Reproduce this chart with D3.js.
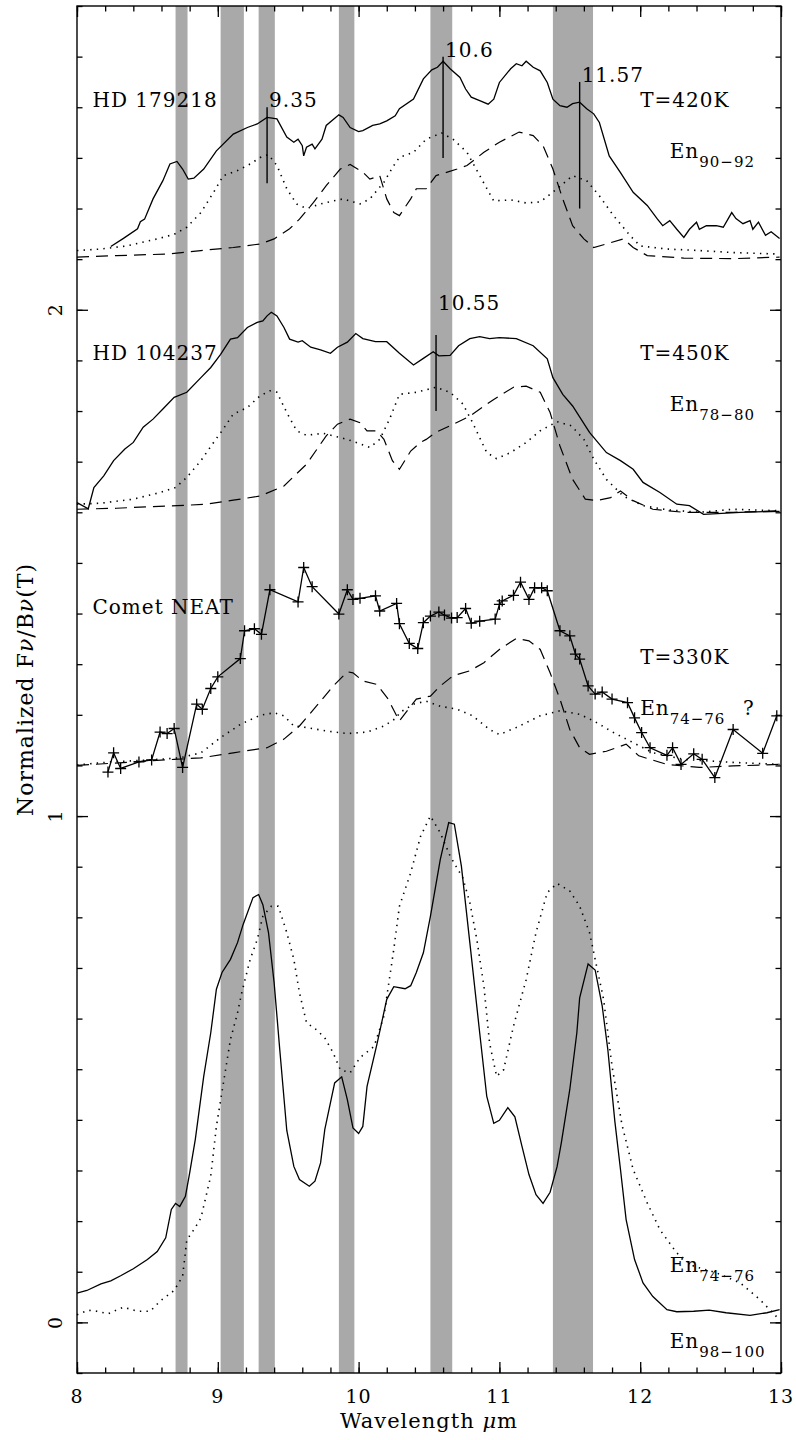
<!DOCTYPE html>
<html>
<head>
<meta charset="utf-8">
<script src="https://cdn.jsdelivr.net/npm/d3@7"></script>
<style>
  body { margin: 0; background: #fff; }
  text { font-family: "DejaVu Serif", serif; fill: #000; letter-spacing: 1px; }
  .obs { fill: none; stroke: #000; stroke-width: 1.3px; }
  .dot { fill: none; stroke: #000; stroke-width: 1.6px; stroke-dasharray: 1.4,5.2; }
  .dash { fill: none; stroke: #000; stroke-width: 1.2px; stroke-dasharray: 12,7; }
  .axis path, .axis line { stroke: #000; stroke-width: 1.3px; }
</style>
</head>
<body>
<div id="chart"></div>
<script>
// wavelength (um), normalized flux
const bands = [[8.70, 8.785], [9.02, 9.185], [9.29, 9.405], [9.86, 9.97], [10.51, 10.665], [11.38, 11.665]];

const hd179218 = [[8.24,2.125],[8.33,2.141],[8.43,2.160],[8.45,2.174],[8.48,2.179],[8.54,2.219],[8.61,2.255],[8.66,2.288],[8.71,2.293],[8.75,2.278],[8.79,2.258],[8.83,2.260],[8.90,2.278],[8.99,2.314],[9.11,2.347],[9.21,2.360],[9.28,2.367],[9.35,2.380],[9.42,2.377],[9.49,2.341],[9.54,2.331],[9.57,2.337],[9.60,2.324],[9.61,2.304],[9.63,2.321],[9.67,2.327],[9.69,2.318],[9.74,2.337],[9.77,2.364],[9.86,2.385],[9.89,2.380],[9.94,2.360],[10.00,2.352],[10.03,2.354],[10.10,2.364],[10.15,2.367],[10.20,2.373],[10.26,2.383],[10.29,2.397],[10.39,2.416],[10.46,2.456],[10.52,2.474],[10.56,2.479],[10.60,2.491],[10.65,2.476],[10.72,2.459],[10.76,2.436],[10.80,2.420],[10.86,2.413],[10.92,2.406],[10.96,2.416],[11.00,2.449],[11.08,2.476],[11.12,2.486],[11.16,2.482],[11.19,2.491],[11.24,2.479],[11.29,2.472],[11.34,2.449],[11.38,2.416],[11.43,2.403],[11.48,2.400],[11.52,2.407],[11.57,2.410],[11.62,2.397],[11.67,2.387],[11.71,2.370],[11.78,2.304],[11.86,2.271],[11.95,2.232],[12.05,2.206],[12.12,2.180],[12.16,2.166],[12.21,2.176],[12.26,2.159],[12.31,2.143],[12.35,2.159],[12.40,2.173],[12.42,2.159],[12.47,2.166],[12.54,2.166],[12.59,2.163],[12.65,2.192],[12.68,2.180],[12.73,2.170],[12.78,2.176],[12.80,2.159],[12.84,2.173],[12.89,2.147],[12.93,2.154],[12.99,2.141]];
const hd179218Dot = [[8.00,2.117],[8.17,2.120],[8.35,2.126],[8.57,2.140],[8.69,2.149],[8.78,2.163],[8.88,2.192],[8.97,2.232],[9.04,2.265],[9.14,2.275],[9.23,2.288],[9.32,2.304],[9.36,2.306],[9.42,2.285],[9.49,2.239],[9.56,2.209],[9.63,2.200],[9.73,2.209],[9.82,2.215],[9.89,2.219],[10.01,2.209],[10.08,2.219],[10.18,2.252],[10.25,2.285],[10.29,2.301],[10.39,2.311],[10.48,2.337],[10.59,2.349],[10.67,2.337],[10.77,2.311],[10.86,2.265],[10.96,2.215],[11.08,2.217],[11.19,2.211],[11.29,2.213],[11.41,2.239],[11.52,2.265],[11.62,2.255],[11.71,2.225],[11.81,2.186],[11.93,2.146],[12.00,2.126],[12.19,2.120],[12.42,2.117],[12.66,2.113],[12.99,2.110]];
const hd179218Dash = [[8.00,2.104],[8.28,2.107],[8.64,2.110],[8.88,2.117],[9.11,2.123],[9.30,2.130],[9.40,2.140],[9.51,2.160],[9.58,2.179],[9.68,2.212],[9.77,2.245],[9.87,2.278],[9.94,2.287],[10.03,2.272],[10.08,2.258],[10.15,2.265],[10.20,2.219],[10.25,2.192],[10.29,2.186],[10.37,2.219],[10.41,2.239],[10.48,2.239],[10.55,2.265],[10.70,2.278],[10.77,2.285],[10.89,2.311],[11.00,2.331],[11.14,2.351],[11.24,2.344],[11.31,2.324],[11.38,2.278],[11.45,2.219],[11.52,2.166],[11.60,2.140],[11.67,2.123],[11.76,2.130],[11.88,2.140],[11.95,2.123],[12.05,2.107],[12.31,2.102],[12.66,2.101],[12.99,2.104]];

const hd104237 = [[8.00,1.619],[8.08,1.607],[8.12,1.649],[8.19,1.672],[8.26,1.702],[8.34,1.725],[8.40,1.738],[8.47,1.768],[8.54,1.784],[8.61,1.804],[8.69,1.827],[8.78,1.837],[8.88,1.866],[8.95,1.886],[9.02,1.912],[9.09,1.942],[9.14,1.945],[9.21,1.965],[9.28,1.975],[9.32,1.978],[9.35,1.988],[9.38,1.995],[9.42,1.988],[9.47,1.965],[9.51,1.942],[9.57,1.936],[9.60,1.939],[9.66,1.926],[9.73,1.921],[9.80,1.914],[9.85,1.926],[9.92,1.936],[9.98,1.953],[10.03,1.943],[10.12,1.937],[10.20,1.937],[10.29,1.914],[10.39,1.891],[10.46,1.904],[10.53,1.917],[10.57,1.909],[10.65,1.910],[10.71,1.929],[10.79,1.943],[10.86,1.947],[10.93,1.943],[11.00,1.945],[11.12,1.943],[11.24,1.929],[11.34,1.903],[11.38,1.866],[11.45,1.833],[11.52,1.810],[11.64,1.758],[11.76,1.718],[11.86,1.702],[11.95,1.685],[12.02,1.659],[12.14,1.639],[12.26,1.616],[12.35,1.613],[12.45,1.596],[12.71,1.600],[12.99,1.602]];
const hd104237Dot = [[8.00,1.616],[8.17,1.618],[8.40,1.626],[8.59,1.639],[8.70,1.649],[8.78,1.669],[8.88,1.702],[8.97,1.738],[9.03,1.761],[9.11,1.794],[9.21,1.807],[9.30,1.830],[9.37,1.840],[9.42,1.837],[9.49,1.797],[9.56,1.761],[9.63,1.752],[9.75,1.756],[9.82,1.751],[9.92,1.744],[10.01,1.735],[10.08,1.728],[10.15,1.744],[10.22,1.784],[10.29,1.833],[10.41,1.837],[10.55,1.847],[10.65,1.837],[10.74,1.814],[10.81,1.777],[10.91,1.718],[10.98,1.706],[11.08,1.718],[11.19,1.738],[11.29,1.761],[11.41,1.779],[11.51,1.771],[11.60,1.744],[11.67,1.705],[11.76,1.665],[11.88,1.632],[12.02,1.613],[12.19,1.605],[12.42,1.600],[12.66,1.606],[12.99,1.603]];
const hd104237Dash = [[8.00,1.606],[8.28,1.608],[8.52,1.611],[8.71,1.613],[8.92,1.616],[9.11,1.624],[9.30,1.632],[9.47,1.652],[9.63,1.695],[9.77,1.751],[9.85,1.774],[9.94,1.784],[10.01,1.777],[10.06,1.761],[10.13,1.761],[10.18,1.744],[10.24,1.702],[10.29,1.685],[10.37,1.721],[10.44,1.738],[10.48,1.744],[10.55,1.758],[10.65,1.771],[10.79,1.790],[10.96,1.823],[11.10,1.847],[11.19,1.849],[11.29,1.837],[11.36,1.797],[11.43,1.731],[11.52,1.665],[11.61,1.626],[11.69,1.623],[11.79,1.629],[11.86,1.642],[11.95,1.623],[12.09,1.606],[12.31,1.600],[12.66,1.600],[12.99,1.603]];

const cometNeat = [[8.22,1.087],[8.26,1.125],[8.31,1.094],[8.44,1.107],[8.53,1.111],[8.59,1.166],[8.64,1.163],[8.69,1.173],[8.75,1.096],[8.85,1.221],[8.89,1.211],[8.95,1.252],[9.00,1.275],[9.16,1.311],[9.19,1.366],[9.26,1.370],[9.31,1.359],[9.37,1.447],[9.57,1.423],[9.61,1.491],[9.67,1.453],[9.86,1.399],[9.92,1.447],[9.96,1.428],[10.01,1.430],[10.12,1.435],[10.15,1.405],[10.27,1.420],[10.29,1.380],[10.36,1.341],[10.42,1.331],[10.46,1.382],[10.51,1.395],[10.57,1.403],[10.61,1.397],[10.66,1.391],[10.70,1.392],[10.76,1.410],[10.80,1.381],[10.86,1.385],[10.97,1.389],[11.00,1.418],[11.02,1.425],[11.10,1.436],[11.15,1.462],[11.21,1.428],[11.25,1.451],[11.30,1.451],[11.34,1.445],[11.43,1.366],[11.50,1.356],[11.54,1.320],[11.57,1.310],[11.63,1.257],[11.68,1.241],[11.73,1.245],[11.80,1.231],[11.91,1.224],[11.96,1.194],[12.01,1.165],[12.07,1.135],[12.19,1.120],[12.23,1.135],[12.29,1.102],[12.38,1.123],[12.44,1.112],[12.53,1.076],[12.66,1.171],[12.87,1.124],[12.97,1.198]];
const cometDot = [[8.00,1.101],[8.24,1.107],[8.52,1.111],[8.73,1.115],[8.88,1.125],[9.02,1.155],[9.16,1.181],[9.30,1.199],[9.40,1.204],[9.47,1.198],[9.54,1.178],[9.63,1.175],[9.77,1.168],[9.92,1.163],[10.06,1.166],[10.18,1.178],[10.27,1.194],[10.29,1.204],[10.39,1.221],[10.48,1.227],[10.58,1.217],[10.70,1.211],[10.81,1.198],[10.93,1.171],[11.00,1.161],[11.12,1.175],[11.29,1.198],[11.43,1.208],[11.57,1.201],[11.67,1.188],[11.81,1.165],[11.95,1.145],[12.09,1.125],[12.31,1.112],[12.66,1.106],[12.99,1.102]];
const cometDash = [[8.00,1.100],[8.40,1.107],[8.69,1.112],[8.88,1.115],[9.11,1.125],[9.35,1.135],[9.47,1.152],[9.58,1.178],[9.70,1.217],[9.82,1.257],[9.92,1.285],[9.96,1.283],[10.03,1.267],[10.13,1.260],[10.21,1.231],[10.27,1.198],[10.29,1.188],[10.37,1.217],[10.41,1.231],[10.51,1.237],[10.58,1.257],[10.67,1.277],[10.79,1.287],[10.89,1.303],[11.00,1.329],[11.12,1.351],[11.21,1.346],[11.29,1.329],[11.36,1.283],[11.43,1.231],[11.50,1.171],[11.57,1.135],[11.64,1.122],[11.76,1.128],[11.90,1.142],[11.99,1.119],[12.19,1.102],[12.42,1.096],[12.66,1.099],[12.99,1.102]];

const en98100 = [[8.00,0.058],[8.07,0.063],[8.17,0.076],[8.24,0.082],[8.31,0.092],[8.40,0.106],[8.50,0.124],[8.57,0.140],[8.63,0.167],[8.67,0.223],[8.70,0.235],[8.73,0.229],[8.77,0.249],[8.80,0.295],[8.84,0.361],[8.90,0.486],[8.95,0.572],[8.99,0.658],[9.03,0.691],[9.09,0.717],[9.14,0.750],[9.18,0.786],[9.25,0.839],[9.29,0.845],[9.32,0.825],[9.36,0.770],[9.40,0.671],[9.44,0.539],[9.49,0.379],[9.54,0.308],[9.58,0.282],[9.65,0.269],[9.69,0.279],[9.73,0.315],[9.76,0.381],[9.83,0.473],[9.88,0.485],[9.92,0.440],[9.96,0.384],[10.00,0.373],[10.03,0.387],[10.06,0.466],[10.13,0.549],[10.20,0.638],[10.25,0.663],[10.33,0.659],[10.37,0.665],[10.41,0.691],[10.46,0.730],[10.51,0.802],[10.58,0.914],[10.64,0.987],[10.68,0.984],[10.73,0.901],[10.79,0.750],[10.86,0.572],[10.91,0.447],[10.96,0.393],[11.00,0.399],[11.06,0.424],[11.11,0.406],[11.16,0.348],[11.21,0.292],[11.26,0.252],[11.31,0.235],[11.36,0.257],[11.41,0.308],[11.44,0.355],[11.50,0.460],[11.55,0.572],[11.57,0.641],[11.63,0.708],[11.68,0.696],[11.73,0.625],[11.77,0.539],[11.82,0.397],[11.86,0.302],[11.90,0.203],[11.96,0.124],[12.02,0.078],[12.09,0.051],[12.19,0.025],[12.26,0.021],[12.38,0.022],[12.49,0.024],[12.61,0.019],[12.78,0.014],[12.90,0.019],[12.99,0.025]];
const en7476 = [[8.00,0.015],[8.08,0.024],[8.14,0.022],[8.22,0.017],[8.33,0.030],[8.43,0.022],[8.52,0.022],[8.59,0.042],[8.69,0.063],[8.75,0.091],[8.78,0.163],[8.83,0.183],[8.88,0.206],[8.95,0.289],[8.99,0.387],[9.04,0.473],[9.09,0.559],[9.14,0.611],[9.17,0.651],[9.23,0.717],[9.28,0.756],[9.32,0.802],[9.38,0.822],[9.43,0.822],[9.49,0.770],[9.54,0.717],[9.58,0.651],[9.63,0.592],[9.70,0.578],[9.76,0.562],[9.82,0.532],[9.87,0.499],[9.94,0.493],[10.01,0.523],[10.11,0.545],[10.18,0.605],[10.25,0.737],[10.29,0.822],[10.37,0.888],[10.44,0.960],[10.51,1.000],[10.58,0.967],[10.65,0.921],[10.74,0.878],[10.79,0.829],[10.84,0.756],[10.89,0.664],[10.93,0.552],[10.98,0.486],[11.03,0.499],[11.10,0.585],[11.19,0.677],[11.26,0.770],[11.34,0.849],[11.41,0.867],[11.50,0.852],[11.57,0.822],[11.64,0.770],[11.69,0.704],[11.74,0.638],[11.80,0.506],[11.87,0.391],[11.95,0.302],[12.05,0.236],[12.14,0.183],[12.26,0.137],[12.38,0.111],[12.54,0.098],[12.71,0.078],[12.85,0.045],[12.99,0.005]];

// peak markers: wavelength, lower end, upper end
const peakMarks = [[9.35, 2.25, 2.40], [10.6, 2.30, 2.50], [11.57, 2.20, 2.45], [10.55, 1.80, 1.95]];
const peakLabels = ["9.35", "10.6", "11.57", "10.55"];
const peakLabelY = [2.40, 2.50, 2.45, 2.00];

let margin = {top: 6, right: 15, bottom: 67, left: 77};
let width = 796 - margin.left - margin.right,
    height = 1440 - margin.top - margin.bottom;

let svg = d3.select("#chart").append("svg")
    .attr("width", 796)
    .attr("height", 1440)
    .append("g")
    .attr("transform", `translate(${margin.left},${margin.top})`);

let xScale = d3.scaleLinear().domain([8, 13]).range([0, width]);
let yScale = d3.scaleLinear().domain([-0.1, 2.6]).range([height, 0]);

// shaded bands
svg.selectAll(".band")
    .data(bands)
    .enter().append("rect")
    .attr("class", "band")
    .attr("x", d => xScale(d[0]))
    .attr("width", d => xScale(d[1]) - xScale(d[0]))
    .attr("y", 0)
    .attr("height", height)
    .attr("fill", "#a9a9a9");

let line = d3.line()
    .x(d => xScale(d[0]))
    .y(d => yScale(d[1]));

let series = [
    [hd179218, "obs"], [hd179218Dot, "dot"], [hd179218Dash, "dash"],
    [hd104237, "obs"], [hd104237Dot, "dot"], [hd104237Dash, "dash"],
    [cometNeat, "obs"], [cometDot, "dot"], [cometDash, "dash"],
    [en98100, "obs"], [en7476, "dot"]
];

series.forEach(s => {
    svg.append("path")
        .datum(s[0])
        .attr("class", s[1])
        .attr("d", line);
});

// crosses on the comet data
svg.selectAll(".cross")
    .data(cometNeat)
    .enter().append("path")
    .attr("class", "cross")
    .attr("transform", d => `translate(${xScale(d[0])},${yScale(d[1])})`)
    .attr("d", "M-5.5,0H5.5M0,-5.5V5.5")
    .attr("stroke", "#000")
    .attr("stroke-width", 1.3);

// vertical peak markers with labels
svg.selectAll(".peak")
    .data(peakMarks)
    .enter().append("line")
    .attr("class", "peak")
    .attr("x1", d => xScale(d[0]))
    .attr("x2", d => xScale(d[0]))
    .attr("y1", d => yScale(d[1]))
    .attr("y2", d => yScale(d[2]))
    .attr("stroke", "#000")
    .attr("stroke-width", 1.4);

svg.selectAll(".peak-label")
    .data(peakMarks)
    .enter().append("text")
    .attr("x", d => xScale(d[0]) + 2)
    .attr("y", (d, i) => yScale(peakLabelY[i]))
    .style("font-size", "20px")
    .text((d, i) => peakLabels[i]);

// text labels
function label(x, y, main, sub) {
    let t = svg.append("text")
        .attr("x", xScale(x))
        .attr("y", yScale(y))
        .style("font-size", "20px")
        .text(main);
    if (sub) {
        t.append("tspan")
            .attr("dy", 9)
            .style("font-size", "15px")
            .text(sub);
    }
    return t;
}

label(8.11, 2.40, "HD 179218");
label(12.0, 2.40, "T=420K");
label(12.21, 2.30, "En", "90\u221292");
label(8.11, 1.90, "HD 104237");
label(12.0, 1.90, "T=450K");
label(12.21, 1.80, "En", "78\u221280");
label(8.11, 1.40, "Comet NEAT");
label(12.0, 1.30, "T=330K");
label(12.0, 1.20, "En", "74\u221276");
label(12.73, 1.20, "?");
label(12.21, 0.10, "En", "74\u221276");
label(12.21, -0.05, "En", "98\u2212100");

// frame
svg.append("rect")
    .attr("width", width)
    .attr("height", height)
    .attr("fill", "none")
    .attr("stroke", "#000")
    .attr("stroke-width", 1.4);

// ticks, all pointing inward
let xMinor = d3.range(8, 13.01, 0.2);
let yMinor = d3.range(-0.1, 2.61, 0.1);

function addAxis(axis, tx, ty) {
    svg.append("g")
        .attr("class", "axis")
        .attr("transform", `translate(${tx},${ty})`)
        .call(axis)
        .call(g => g.select(".domain").remove());
}

addAxis(d3.axisBottom(xScale).tickValues(xMinor).tickSize(-5.5).tickFormat(""), 0, height);
addAxis(d3.axisTop(xScale).tickValues(xMinor).tickSize(-5.5).tickFormat(""), 0, 0);
addAxis(d3.axisBottom(xScale).tickValues([8, 9, 10, 11, 12, 13]).tickSize(-11).tickFormat(""), 0, height);
addAxis(d3.axisTop(xScale).tickValues([8, 9, 10, 11, 12, 13]).tickSize(-11).tickFormat(""), 0, 0);
addAxis(d3.axisLeft(yScale).tickValues(yMinor).tickSize(-5.5).tickFormat(""), 0, 0);
addAxis(d3.axisRight(yScale).tickValues(yMinor).tickSize(-5.5).tickFormat(""), width, 0);
addAxis(d3.axisLeft(yScale).tickValues([0, 1, 2]).tickSize(-11).tickFormat(""), 0, 0);
addAxis(d3.axisRight(yScale).tickValues([0, 1, 2]).tickSize(-11).tickFormat(""), width, 0);

// tick labels
svg.selectAll(".xlab")
    .data([8, 9, 10, 11, 12, 13])
    .enter().append("text")
    .attr("x", d => xScale(d))
    .attr("y", height + 30)
    .attr("text-anchor", "middle")
    .style("font-size", "19px")
    .text(d => d);

svg.selectAll(".ylab")
    .data([0, 1, 2])
    .enter().append("text")
    .attr("transform", d => `translate(-15,${yScale(d)}) rotate(-90)`)
    .attr("text-anchor", "middle")
    .style("font-size", "19px")
    .text(d => d);

// axis titles
svg.append("text")
    .attr("x", (xScale(8) + xScale(13)) / 2)
    .attr("y", height + 55)
    .attr("text-anchor", "middle")
    .style("font-size", "21px")
    .html("Wavelength <tspan font-style='italic'>\u03bc</tspan>m");

svg.append("text")
    .attr("transform", `translate(-44,${height / 2}) rotate(-90)`)
    .attr("text-anchor", "middle")
    .style("font-size", "22px")
    .html("Normalized F<tspan font-style='italic'>\u03bd</tspan>/B<tspan font-style='italic'>\u03bd</tspan>(T)");
</script>
</body>
</html>
